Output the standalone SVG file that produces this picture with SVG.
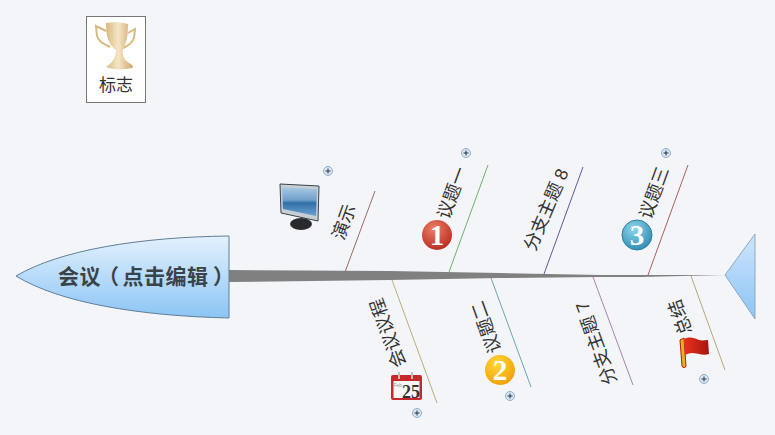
<svg xmlns="http://www.w3.org/2000/svg" width="775" height="435" viewBox="0 0 775 435">
<style>
.lbl{font-family:"Liberation Sans","Noto Sans CJK SC",sans-serif;font-size:18px;fill:#333;text-anchor:middle}
.num{font-family:"Liberation Serif","Noto Sans CJK SC",serif;font-weight:bold;font-size:29px;fill:#fff;text-anchor:middle}
.bone{fill:none;stroke-width:1}
.plus circle{fill:#dbe6f2;stroke:#8fafcc;stroke-width:1}
.plus path{stroke:#234;stroke-width:1;fill:none}
</style>
<defs>
<linearGradient id="head" x1="0" y1="0" x2="0" y2="1"><stop offset="0" stop-color="#e3f1fd"/><stop offset="1" stop-color="#8cc4f5"/></linearGradient>
<linearGradient id="tail" x1="0" y1="0" x2="0" y2="1"><stop offset="0" stop-color="#cfe5fb"/><stop offset="1" stop-color="#8cc4f5"/></linearGradient>
<linearGradient id="gold" x1="0" y1="0" x2="1" y2="0"><stop offset="0" stop-color="#d9b982"/><stop offset=".45" stop-color="#f5e6c6"/><stop offset="1" stop-color="#cfa568"/></linearGradient>
<linearGradient id="screen" x1="0" y1="0" x2="0" y2="1"><stop offset="0" stop-color="#a9cbe6"/><stop offset=".45" stop-color="#6f9fca"/><stop offset=".55" stop-color="#2f6fa8"/><stop offset="1" stop-color="#6ba3d0"/></linearGradient>
<radialGradient id="red" cx=".4" cy=".3" r=".8"><stop offset="0" stop-color="#ee8066"/><stop offset="1" stop-color="#b3241c"/></radialGradient>
<radialGradient id="amber" cx=".4" cy=".3" r=".8"><stop offset="0" stop-color="#ffd83a"/><stop offset="1" stop-color="#ef9a00"/></radialGradient>
<radialGradient id="teal" cx=".4" cy=".3" r=".8"><stop offset="0" stop-color="#8fd6ec"/><stop offset="1" stop-color="#2586ad"/></radialGradient>
<linearGradient id="flag" x1="0" y1="0" x2="1" y2="0"><stop offset="0" stop-color="#e8321c"/><stop offset="1" stop-color="#a5140f"/></linearGradient>
<g id="p" class="plus"><circle r="4.500"/><path d="M-2.500,0H2.500M0,-2.500V2.500"/></g>
</defs>
<rect width="775" height="435" fill="#f3f5f9"/>
<g id="connectors">
<polygon points="229,270 390,271 500,273 600,275 640,275 725,275 640,277 600,277 500,278 390,280 229,282" fill="#808080"/>
<path class="bone" stroke="#9a6a66" d="M345,272L375,191"/>
<path class="bone" stroke="#6fb06f" d="M449,272L488,165"/>
<path class="bone" stroke="#5d5a9c" d="M544,274L583,167"/>
<path class="bone" stroke="#a8605c" d="M648,275L688,165"/>
<path class="bone" stroke="#b5b078" d="M392,280L437,403"/>
<path class="bone" stroke="#6aa6b0" d="M491,278L531,387"/>
<path class="bone" stroke="#a486b0" d="M593,277L633,385"/>
<path class="bone" stroke="#b5a878" d="M691,276L725,370"/>
</g>
<g id="head-node">
<path d="M229,236C140,237 60,250 16,276C60,303 140,316 229,318Z" fill="url(#head)" stroke="#5f7f96"/>
<text x="58 79.500 98 122.500 144 165.500 187 213" y="284" font-family="'Liberation Sans','Noto Sans CJK SC',sans-serif" font-size="21" font-weight="bold" fill="#3a4448">会议（点击编辑）</text>
</g>
<g id="tail-node"><polygon points="725,275 755,234 755,319" fill="url(#tail)" stroke="#8fa9bf"/></g>
<g id="legend">
<rect x="86.500" y="16.500" width="59" height="86" fill="#fff" stroke="#777"/>
<path d="M106,31L96,26L97,36C99,42 104,44 110,47M128,33L135,29L134,38C132,44 127,46 123,48" fill="none" stroke="#d8b97f" stroke-width="2"/>
<path d="M106,23C112,22 122,22 128,24C128,38 126,44 123,49C122,56 124,60 129,63C133,65 134,67 132,68C124,70 112,70 106,67C112,63 116,58 116,50C108,44 106,36 106,23Z" fill="url(#gold)"/>
<text class="lbl" x="116" y="91" style="font-size:17px">标志</text>
</g>
<g id="topic-yanshi">
<text class="lbl" transform="translate(350,224) rotate(-70)">演示</text>
<polygon points="280,184 319,186 318,221 281,213" fill="#c9ced3" stroke="#39424d"/>
<polygon points="282,187 317,189 316,216 283,209" fill="url(#screen)"/>
<ellipse cx="301" cy="224" rx="11" ry="6" fill="#2a2a2e"/>
<use href="#p" x="328" y="171"/>
</g>
<g id="topic-1">
<text class="lbl" transform="translate(458,195) rotate(-70)">议题一</text>
<circle cx="437" cy="235" r="15" fill="url(#red)"/>
<text class="num" x="437" y="245">1</text>
<use href="#p" x="466" y="153"/>
</g>
<g id="topic-8">
<text class="lbl" transform="translate(552,212) rotate(-67)">分支主题 8</text>
</g>
<g id="topic-3">
<text class="lbl" transform="translate(660,195) rotate(-70)">议题三</text>
<circle cx="637" cy="235" r="15" fill="url(#teal)" stroke="#2f7fa0"/>
<text class="num" x="637" y="245">3</text>
<use href="#p" x="666" y="153"/>
</g>
<g id="topic-agenda">
<text class="lbl" transform="translate(394,331) rotate(-110)">会议议程</text>
<g transform="translate(391,372)">
<rect x="0" y="3" width="31" height="25" rx="2" fill="#c8282a"/>
<rect x="2.500" y="9" width="26" height="17" fill="#f7f7f7"/>
<path d="M8,0V7M21,0V7" stroke="#b9c4bd" stroke-width="2"/>
<text x="2.500" y="15" font-family="'Liberation Sans',sans-serif" font-size="5" fill="#999">Feb</text>
<text x="20" y="25.500" font-family="'Liberation Serif',serif" font-weight="bold" font-size="18" fill="#333" text-anchor="middle">25</text>
</g>
<use href="#p" x="417" y="413"/>
</g>
<g id="topic-2">
<text class="lbl" transform="translate(492,325) rotate(-110)">议题二</text>
<circle cx="500" cy="370" r="15" fill="url(#amber)"/>
<text class="num" x="500" y="380">2</text>
<use href="#p" x="510" y="396"/>
</g>
<g id="topic-7">
<text class="lbl" transform="translate(602,341) rotate(-110)">分支主题 7</text>
</g>
<g id="topic-end">
<text class="lbl" transform="translate(686,315) rotate(-110)">总结</text>
<g id="flag-icon">
<path d="M680,340L684,338L686,366C686,368 682,368 682,366Z" fill="#e8b020" stroke="#b3200f"/>
<path d="M684,339C690,336 694,338 699,340C702,341 705,340 708,340L709,354C703,356 697,353 692,353C689,353 687,354 685,355Z" fill="url(#flag)"/>
</g>
<use href="#p" x="704" y="379"/>
</g>
</svg>
